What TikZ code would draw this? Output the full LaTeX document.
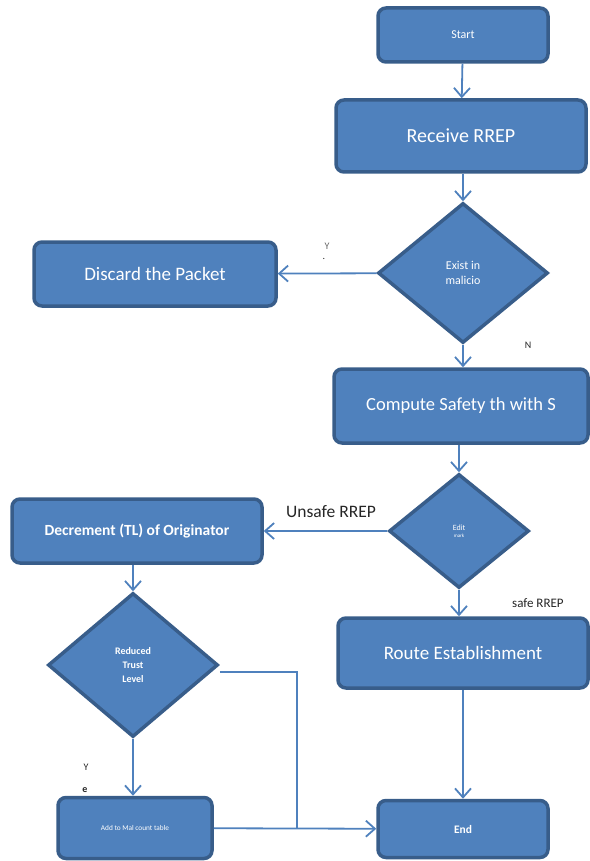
\documentclass[tikz,border=0pt]{standalone}
\usepackage{fontspec}
\setmainfont{Carlito}
\usetikzlibrary{arrows.meta,shapes.geometric}
\definecolor{boxfill}{RGB}{79,129,189}
\definecolor{boxline}{RGB}{56,93,138}
\definecolor{linecol}{RGB}{79,129,189}
\tikzset{
  procbox/.style={draw=boxline, line width=3.5pt, fill=boxfill, rounded corners=8pt, text=white, align=center, inner sep=0pt},
  decbox/.style={diamond, draw=boxline, line width=3.5pt, fill=boxfill, text=white, align=center, inner sep=0pt},
  conn/.style={draw=linecol, line width=1.8pt, -{Straight Barb[length=9pt,width=16pt,line width=1.8pt]}},
  plain/.style={draw=linecol, line width=1.8pt},
  lbl/.style={text=black!85, inner sep=0pt}
}
\begin{document}
\begin{tikzpicture}[x=1pt,y=-1pt]
\useasboundingbox (0,0) rectangle (589,861);
% boxes
\node[procbox, minimum width=170pt, minimum height=54pt, font=\fontsize{12}{13}\selectfont] (start) at (463,35) {Start};
\node[procbox, minimum width=250pt, minimum height=72pt, font=\fontsize{20}{22}\selectfont] (recv) at (461,136) {Receive RREP};
\node[decbox, minimum width=170pt, minimum height=140pt, font=\fontsize{12}{15}\selectfont] (exist) at (463,273) {Exist in\\malicio};
\node[procbox, minimum width=242pt, minimum height=64pt, font=\fontsize{19}{21}\selectfont] (discard) at (155,274) {Discard the Packet};
\node[procbox, minimum width=254pt, minimum height=74pt, font=\fontsize{18.5}{21}\selectfont] (compute) at (461,406) {Compute Safety th with S};
\node[decbox, minimum width=140pt, minimum height=114pt, font=\fontsize{8}{8}\selectfont] (edit) at (459,531) {Edit\\[-1pt]{\fontsize{5}{6}\selectfont mark}};
\node[procbox, minimum width=250pt, minimum height=64pt, font=\bfseries\fontsize{15.5}{17}\selectfont] (decr) at (137,531) {Decrement (TL) of Originator};
\node[procbox, minimum width=250pt, minimum height=70pt, font=\fontsize{19}{21}\selectfont] (route) at (463,653) {Route Establishment};
\node[decbox, minimum width=170pt, minimum height=144pt, font=\bfseries\fontsize{10}{14}\selectfont] (reduced) at (133,665) {Reduced\\Trust\\Level};
\node[procbox, minimum width=154pt, minimum height=61pt, font=\fontsize{7.3}{8}\selectfont] (add) at (135,828) {Add to Mal count table};
\node[procbox, minimum width=170pt, minimum height=57pt, font=\bfseries\fontsize{11.5}{13}\selectfont] (endn) at (463,829) {End};
% connectors
\draw[conn] (start) -- (recv);
\draw[conn] (recv.south -| exist.north) -- (exist);
\draw[conn] (exist) -- (discard);
\draw[conn] (exist.south) -- (exist.south |- compute.north);
\draw[conn] (compute.south -| edit.north) -- (edit);
\draw[conn] (edit) -- (decr);
\draw[conn] (edit.south) -- (edit.south |- route.north);
\draw[conn] (decr.south -| reduced.north) -- (reduced);
\draw[conn] (reduced) -- (reduced.south |- add.north);
\coordinate (jr) at (297,672);
\coordinate (jb) at (297,828);
\draw[plain] (reduced.east |- jr) -- (jr) -- (jb);
\draw[conn] (add) -- (endn);
\draw[conn] (route.south -| endn.north) -- (endn);
% labels
\node[lbl, font=\fontsize{10}{11}\selectfont, text=black!60] (ly1) at (327,246) {Y};
\node[lbl, font=\fontsize{10}{11}\selectfont] (ldot1) at (324,259) {.};
\node[lbl, font=\fontsize{10}{11}\selectfont] (ln) at (528,345) {N};
\node[lbl, font=\fontsize{17.5}{19}\selectfont] (lunsafe) at (331,512) {Unsafe RREP};
\node[lbl, font=\fontsize{13}{14}\selectfont, anchor=west] (lsafe) at (512,603) {safe RREP};
\node[lbl, font=\fontsize{10}{11}\selectfont] (ly2) at (86,767) {Y};
\node[lbl, font=\bfseries\fontsize{10}{11}\selectfont] (le2) at (85,790) {e};
\end{tikzpicture}
\end{document}
